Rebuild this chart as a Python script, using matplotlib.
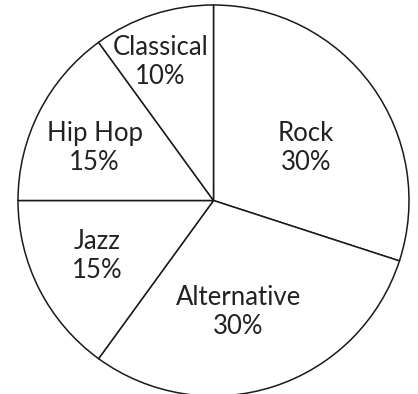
import numpy as np
import matplotlib.pyplot as plt

# genre shares
genres = ['Rock', 'Alternative', 'Jazz', 'Hip Hop', 'Classical']
shares = [30, 30, 15, 15, 10]

# label placement per slice: (distance from centre, angle shift in degrees)
label_pos = [(0.545, -6.4), (0.585, -5.6), (0.66, -1.5), (0.665, 3.1), (0.76, 3)]

fig = plt.figure(figsize=(4.18, 3.94), dpi=100)
ax = fig.add_axes([0, 0, 1, 1])

wedges, _ = ax.pie(shares, startangle=90, counterclock=False, radius=1,
                   wedgeprops=dict(facecolor='white', edgecolor='#1a1a1a', linewidth=1.1))

for w, name, val, (r, shift) in zip(wedges, genres, shares, label_pos):
    mid = np.deg2rad((w.theta1 + w.theta2) / 2 + shift)
    ax.text(r * np.cos(mid), r * np.sin(mid), f'{name}\n{val}%',
            ha='center', va='center', fontsize=18.5, color='#222222',
            family='Lato', linespacing=1.2)

ax.set_aspect('auto')
ax.set_xlim(-213.5 / 195.5, (418 - 213.5) / 195.5)
ax.set_ylim((200.5 - 394) / 195.5, 200.5 / 195.5)
ax.axis('off')

fig.savefig('out.png', dpi=100)
